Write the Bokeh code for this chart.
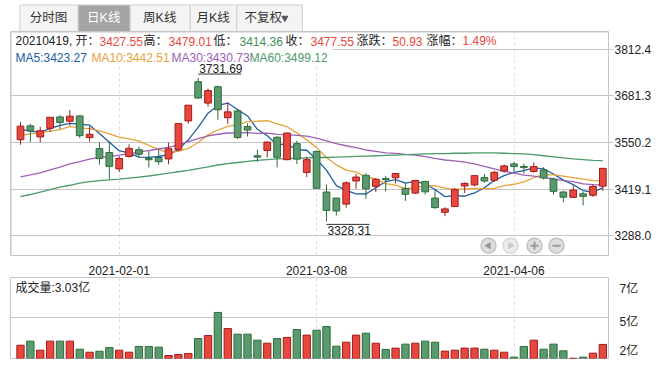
import numpy as np
from bokeh.plotting import figure
from bokeh.models import Range1d, FixedTicker, BoxAnnotation, ColumnDataSource
from bokeh.layouts import column
from bokeh.embed import file_html
from bokeh.resources import INLINE
from bokeh.core.properties import value

# ---------------- data (Shanghai Composite, daily) ----------------
dates = ["2021-01-18", "2021-01-19", "2021-01-20", "2021-01-21", "2021-01-22",
         "2021-01-25", "2021-01-26", "2021-01-27", "2021-01-28", "2021-01-29",
         "2021-02-01", "2021-02-02", "2021-02-03", "2021-02-04", "2021-02-05",
         "2021-02-08", "2021-02-09", "2021-02-10", "2021-02-18", "2021-02-19",
         "2021-02-22", "2021-02-23", "2021-02-24", "2021-02-25", "2021-02-26",
         "2021-03-01", "2021-03-02", "2021-03-03", "2021-03-04", "2021-03-05",
         "2021-03-08", "2021-03-09", "2021-03-10", "2021-03-11", "2021-03-12",
         "2021-03-15", "2021-03-16", "2021-03-17", "2021-03-18", "2021-03-19",
         "2021-03-22", "2021-03-23", "2021-03-24", "2021-03-25", "2021-03-26",
         "2021-03-29", "2021-03-30", "2021-03-31", "2021-04-01", "2021-04-02",
         "2021-04-06", "2021-04-07", "2021-04-08", "2021-04-09", "2021-04-12",
         "2021-04-13", "2021-04-14", "2021-04-15", "2021-04-16", "2021-04-19"]

opens = [3558, 3597, 3566, 3590, 3622, 3610, 3625, 3564, 3533, 3522,
         3476, 3511, 3530, 3505, 3508, 3504, 3530, 3611, 3721, 3661,
         3707, 3620, 3639, 3595, 3513, 3528, 3565, 3502, 3547, 3466,
         3525, 3411, 3394, 3377, 3442, 3458, 3427, 3449, 3451, 3421,
         3408, 3441, 3394, 3354, 3370, 3428, 3431, 3452, 3444, 3470,
         3490, 3483, 3469, 3473, 3447, 3411, 3396, 3406, 3402, 3427.55]
highs = [3608, 3603, 3594, 3622, 3627, 3642, 3626, 3595, 3550, 3554,
         3512, 3545, 3539, 3526, 3531, 3550, 3603.5, 3655.1, 3731.69, 3702,
         3710, 3663, 3645, 3604, 3530, 3553, 3568, 3578, 3555, 3510,
         3528, 3432, 3395, 3441, 3462, 3464, 3450, 3456, 3463.5, 3436,
         3445, 3442, 3419, 3368, 3422, 3438, 3459, 3462, 3471, 3488,
         3496, 3491, 3494, 3481, 3451, 3415, 3428, 3412, 3433, 3479.01]
lows = [3544, 3552, 3551, 3580, 3588, 3598, 3563, 3553, 3488, 3447,
        3467, 3508, 3507, 3480, 3488, 3489, 3527, 3603, 3673, 3651,
        3614, 3603, 3560, 3567, 3496, 3508, 3480, 3500, 3490, 3453,
        3421, 3328.31, 3345, 3367, 3420, 3392, 3411, 3413, 3435, 3386,
        3405, 3404, 3364, 3343, 3370, 3408, 3427, 3437, 3439, 3466,
        3468, 3463, 3465, 3446, 3404, 3382, 3394, 3373, 3397, 3414.36]
closes = [3596.22, 3583.09, 3583.35, 3621.26, 3606.75, 3624.24, 3569.43, 3573.34, 3505.18, 3483.07,
          3505.28, 3533.68, 3517.31, 3501.86, 3496.33, 3532.44, 3603.49, 3655.09, 3675.36, 3696.17,
          3642.44, 3636.36, 3564.08, 3585.05, 3509.08, 3551.40, 3508.59, 3576.90, 3503.49, 3501.99,
          3421.41, 3359.29, 3357.74, 3436.83, 3453.08, 3419.95, 3446.73, 3445.55, 3463.07, 3404.66,
          3443.44, 3411.51, 3367.06, 3363.59, 3418.33, 3435.30, 3457.07, 3441.91, 3466.33, 3484.39,
          3482.56, 3479.63, 3482.48, 3450.68, 3412.95, 3396.47, 3416.53, 3398.99, 3426.62, 3477.55]
# closes of the 29 sessions before the first bar (for the moving averages)
prior_closes = [3416.60, 3410.18, 3371.96, 3373.28, 3347.19, 3369.12, 3367.23, 3366.98, 3404.87, 3394.90,
                3420.57, 3356.78, 3382.32, 3363.11, 3396.56, 3397.29, 3379.04, 3414.45, 3473.07,
                3502.96, 3528.68, 3550.64, 3576.21, 3570.11, 3531.50, 3608.34, 3598.65, 3565.90, 3566.38]
# volume, 亿
volumes = [2.97, 3.27, 2.61, 3.27, 3.27, 3.27, 2.68, 2.46, 2.53, 2.80,
           2.61, 2.46, 2.88, 2.88, 2.83, 2.22, 2.29, 2.37, 3.46, 3.68,
           5.37, 4.19, 3.78, 3.78, 3.34, 3.12, 3.46, 3.54, 4.12, 3.71,
           4.07, 4.34, 2.90, 3.19, 3.71, 3.85, 3.12, 2.66, 2.76, 3.05,
           3.12, 3.27, 3.19, 2.54, 2.61, 2.76, 2.76, 2.68, 2.61, 2.46,
           2.10, 2.88, 3.34, 2.68, 3.05, 2.56, 2.02, 2.10, 2.39, 3.03]
# MA60
ma60 = [3398, 3404, 3411, 3418, 3425, 3430, 3436, 3440, 3443, 3445,
        3447, 3450, 3453, 3456, 3460, 3464, 3468, 3472, 3477, 3482,
        3487, 3491, 3494, 3497, 3500, 3502, 3504, 3505, 3506, 3507,
        3508, 3508, 3509, 3510, 3511, 3512, 3513, 3514, 3515, 3516,
        3517, 3518, 3519, 3519, 3520, 3520, 3521, 3521, 3521, 3520,
        3519, 3518, 3516, 3513, 3510, 3507, 3504, 3502, 3500, 3499.12]
ma_names = ["MA5", "MA10", "MA30", "MA60"]
ma_legend_values = [3423.27, 3442.51, 3430.73, 3499.12]
price_ticks = [3288.0, 3419.1, 3550.2, 3681.3, 3812.4]
date_tick_labels = ["2021-02-01", "2021-03-08", "2021-04-06"]
vol_tick_labels = ["2亿", "5亿", "7亿"]
vol_grid_values = [5.0]
vol_base = 2.0
tab_labels = ["分时图", "日K线", "周K线", "月K线", "不复权"]

# ---------------- styling / geometry (page pixels) ----------------
W = 667
FONT = "Liberation Sans, Noto Sans CJK SC"
UP_FILL, UP_LINE = "#e8473d", "#a01c1c"
DN_FILL, DN_LINE = "#5b9a6e", "#2c6b3c"
GRID = "#c6c6c6"
MA_COLORS = ["#20609f", "#e9a23b", "#9d60b5", "#4b9a68"]

X0, DX = 20.0, 9.87           # page x of first candle, px per candle
def px2i(px):
    return (px - X0) / DX
def py2p(py):
    return 3288.0 + (238.0 - py) * 2.7746
def py2v(py):
    return vol_base + (358.0 - py) / 13.67

n = len(closes)
xi = np.arange(n)
o = np.array(opens, float); c = np.array(closes, float)
h = np.array(highs, float); l = np.array(lows, float)
up = c >= o
allc = np.array(prior_closes + closes, float)
npre = len(prior_closes)
def moving_average(k):
    return np.array([allc[npre + i - k + 1:npre + i + 1].mean() for i in range(n)])
mas = [moving_average(5), moving_average(10), moving_average(30), np.array(ma60, float)]

src = ColumnDataSource(dict(
    x=xi, top=np.maximum(o, c), bot=np.minimum(o, c), h=h, l=l,
    fill=[UP_FILL if u else DN_FILL for u in up],
    line=[UP_LINE if u else DN_LINE for u in up],
    vol=volumes))

date_pos = [dates.index(d) for d in date_tick_labels]

# ---------------- tabs ----------------
t = figure(width=W, height=31, x_range=Range1d(0, W), y_range=Range1d(31, 0),
           output_backend="svg", toolbar_location=None, tools="", title=None,
           x_axis_location=None, y_axis_location=None, min_border=0)
t.grid.visible = False
t.outline_line_color = None
tab_left = [10.5, 75.5, 133.5, 200.5, 252.5]
tab_right = [75.5, 133.5, 200.5, 252.5, 325.5]
tab_fill = ["#f4f4f4", "#a4a4a4", "#f4f4f4", "#f4f4f4", "#f4f4f4"]
tab_text = ["#333333", "#ffffff", "#333333", "#333333", "#333333"]
t.quad(left=tab_left, right=tab_right, top=[4.5] * 5, bottom=[31] * 5,
       fill_color=tab_fill, line_color="#cfcfcf")
tab_cx = [42.5, 104, 166.5, 226, 282]
t.text(x=tab_cx, y=[17] * 5, text=tab_labels, text_color=tab_text,
       text_font=value(FONT), text_font_size="12.5px", text_align="center", text_baseline="middle")
t.scatter(x=[306], y=[17.5], marker="inverted_triangle", size=6, color="#555555")

# ---------------- price panel ----------------
p = figure(width=W, height=246, x_range=Range1d(px2i(10), px2i(608)),
           y_range=Range1d(py2p(258), py2p(31)), output_backend="svg",
           toolbar_location=None, tools="", title=None, y_axis_location="right",
           min_border_left=10, min_border_right=59, min_border_top=0, min_border_bottom=19)
p.outline_line_color = GRID
p.yaxis.ticker = FixedTicker(ticks=price_ticks)
p.yaxis.major_label_overrides = {v: f"{v:.1f}" for v in price_ticks}
p.yaxis.axis_line_color = None
p.yaxis.major_tick_out = 5
p.yaxis.major_tick_in = 0
p.yaxis.major_tick_line_color = GRID
p.yaxis.minor_tick_line_color = None
p.yaxis.major_label_standoff = 1
p.yaxis.major_label_text_font = FONT
p.yaxis.major_label_text_font_size = "12px"
p.yaxis.major_label_text_color = "#222222"
p.ygrid.ticker = FixedTicker(ticks=price_ticks)
p.ygrid.grid_line_color = GRID
p.xaxis.ticker = FixedTicker(ticks=date_pos)
p.xaxis.major_label_overrides = {i: d for i, d in zip(date_pos, date_tick_labels)}
p.xaxis.axis_line_color = None
p.xaxis.major_tick_line_color = None
p.xaxis.minor_tick_line_color = None
p.xaxis.major_label_standoff = 4
p.xaxis.major_label_text_font = FONT
p.xaxis.major_label_text_font_size = "12px"
p.xaxis.major_label_text_color = "#222222"
p.xgrid.ticker = FixedTicker(ticks=date_pos)
p.xgrid.grid_line_color = "#dddddd"
p.xgrid.grid_line_dash = "3 3"

for box in (BoxAnnotation(left=px2i(10.5), right=px2i(658.5), top=py2p(31.5), bottom=py2p(500)),
            BoxAnnotation(left=px2i(608.5), right=px2i(658.5), top=py2p(31.5), bottom=py2p(500))):
    box.fill_color = None
    box.line_color = GRID
    box.line_alpha = 1
    box.line_width = 1
    p.add_layout(box)

# white backing of the MA legend row (hides the top grid line there)
p.quad(left=[px2i(11)], right=[px2i(332)], top=[py2p(47.5)], bottom=[py2p(65)],
       fill_color="white", line_color=None)

for m, col in zip(mas, MA_COLORS):
    p.line(xi, m, line_color=col, line_width=1.3)
p.segment(x0="x", y0="h", x1="x", y1="l", line_color="line", line_width=1, source=src)
p.vbar(x="x", top="top", bottom="bot", width=0.68, fill_color="fill", line_color="line",
       line_width=1, source=src)

# max / min markers
imax = int(np.argmax(h)); imin = int(np.argmin(l))
p.text(x=[imax], y=[h[imax]], text=[f"{h[imax]:.2f}"], x_offset=1, y_offset=-5,
       text_font=value(FONT), text_font_size="12px", text_color="#222222",
       text_baseline="bottom", text_align="left")
p.segment(x0=[imax], y0=[h[imax] + 4 * 2.7746], x1=[imax + 43 / DX], y1=[h[imax] + 4 * 2.7746],
          line_color="#333333", line_width=1)
p.text(x=[imin], y=[l[imin]], text=[f"{l[imin]:.2f}"], x_offset=1, y_offset=5,
       text_font=value(FONT), text_font_size="12px", text_color="#222222",
       text_baseline="top", text_align="left")
p.segment(x0=[imin], y0=[l[imin] - 3 * 2.7746], x1=[imin + 43 / DX], y1=[l[imin] - 3 * 2.7746],
          line_color="#333333", line_width=1)

# info line
prev_close = closes[-2]
chg = closes[-1] - prev_close
pct = chg / prev_close * 100
def col_of(v):
    return UP_FILL if v >= prev_close else "#3f8f5c"
info_text = [dates[-1].replace("-", "") + ", 开：", f"{opens[-1]:.2f}", "高：", f"{highs[-1]:.2f}",
             "低：", f"{lows[-1]:.2f}", "收：", f"{closes[-1]:.2f}", "涨跌：", f"{chg:.2f}",
             "涨幅：", f"{pct:.2f}%"]
info_x = [15, 99, 143, 168, 213, 239, 285, 310, 356, 392, 426, 462]
info_col = ["#222222", col_of(opens[-1]), "#222222", col_of(highs[-1]), "#222222", col_of(lows[-1]),
            "#222222", col_of(closes[-1]), "#222222", UP_FILL, "#222222", UP_FILL]
p.text(x=[px2i(v) for v in info_x], y=[py2p(41)] * len(info_x), text=info_text, text_color=info_col,
       text_font=value(FONT), text_font_size="12px", text_baseline="middle", text_align="left")
ma_x = [15, 91, 171, 249]
p.text(x=[px2i(v) for v in ma_x], y=[py2p(57.5)] * 4,
       text=[f"{nm}:{vv:.2f}" for nm, vv in zip(ma_names, ma_legend_values)], text_color=MA_COLORS,
       text_font=value(FONT), text_font_size="12px", text_baseline="middle", text_align="left")

# navigation buttons
nav_x = [px2i(v) for v in (488, 510, 534, 556)]
nav_y = [py2p(248)] * 4
p.scatter(nav_x, nav_y, marker="circle", size=15, fill_color=["#dedede", "#ebebeb", "#dedede", "#dedede"],
          line_color=["#c2c2c2", "#d8d8d8", "#c2c2c2", "#c2c2c2"], line_width=1.5)
p.scatter(nav_x[:2], nav_y[:2], marker="triangle", angle=[np.pi / 2, -np.pi / 2], size=6,
          color=["#9a9a9a", "#c8c8c8"])
p.scatter(nav_x[2:], nav_y[2:], marker=["cross", "dash"], size=8, line_color="#9a9a9a", line_width=2)

# ---------------- volume panel ----------------
v = figure(width=W, height=92, x_range=p.x_range, y_range=Range1d(py2v(358), py2v(277)),
           output_backend="svg", toolbar_location=None, tools="", title=None,
           y_axis_location="right", x_axis_location=None,
           min_border_left=10, min_border_right=59, min_border_top=0, min_border_bottom=11)
v.outline_line_color = GRID
vol_label_pos = [py2v(350), py2v(321), py2v(288)]
v.yaxis.ticker = FixedTicker(ticks=vol_label_pos)
v.yaxis.major_label_overrides = {pp: lab for pp, lab in zip(vol_label_pos, vol_tick_labels)}
v.yaxis.axis_line_color = None
v.yaxis.major_tick_line_color = None
v.yaxis.minor_tick_line_color = None
v.yaxis.major_label_standoff = 5
v.yaxis.major_label_text_font = FONT
v.yaxis.major_label_text_font_size = "12px"
v.yaxis.major_label_text_color = "#222222"
v.ygrid.ticker = FixedTicker(ticks=vol_grid_values)
v.ygrid.grid_line_color = GRID
v.xgrid.ticker = FixedTicker(ticks=date_pos)
v.xgrid.grid_line_color = "#dddddd"
v.xgrid.grid_line_dash = "3 3"
vbox = BoxAnnotation(left=px2i(608.5), right=px2i(658.5), top=py2v(100), bottom=py2v(358.5))
vbox.fill_color = None
vbox.line_color = GRID
vbox.line_alpha = 1
v.add_layout(vbox)
v.vbar(x="x", top="vol", bottom=vol_base, width=0.74, fill_color="fill", line_color="line", source=src)
v.text(x=[px2i(15)], y=[py2v(287)], text=[f"成交量:{volumes[-1]:.2f}亿"], text_color="#222222",
       text_font=value(FONT), text_font_size="12px", text_baseline="middle", text_align="left")

layout = column(t, p, v, spacing=0)
open("out.html", "w").write(file_html(layout, INLINE))
